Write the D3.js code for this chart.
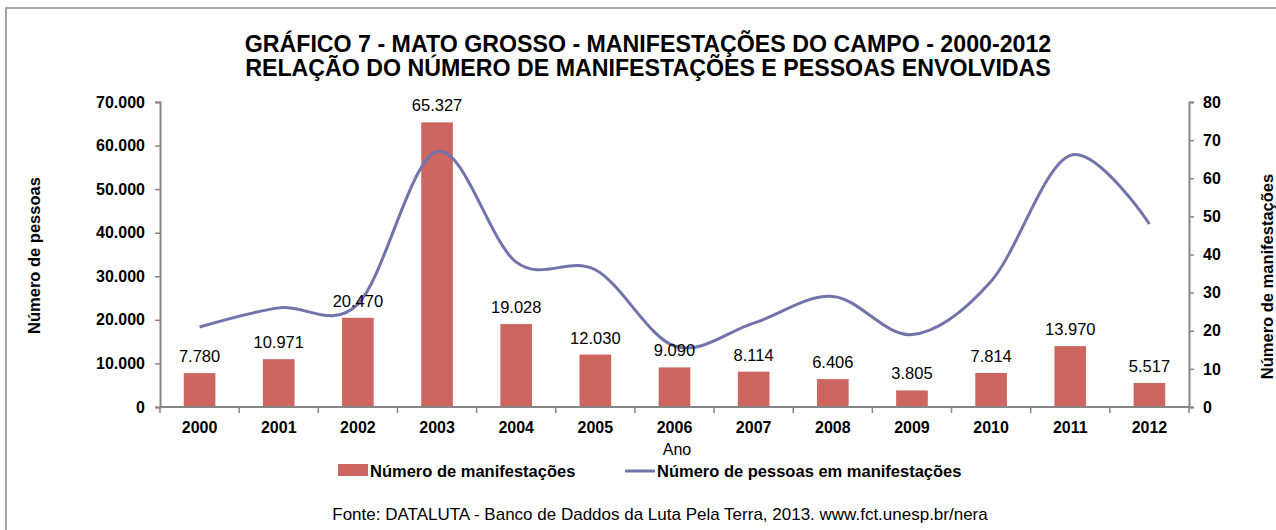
<!DOCTYPE html>
<html>
<head>
<meta charset="utf-8">
<script src="https://cdn.jsdelivr.net/npm/d3@7"></script>
<style>
  body { margin: 0; background: #fff; }
  svg { display: block; font-family: "Liberation Sans", Arial, sans-serif; }
</style>
</head>
<body>
<div id="chart"></div>
<script>
// --- Data ---
const years = ["2000", "2001", "2002", "2003", "2004", "2005", "2006", "2007", "2008", "2009", "2010", "2011", "2012"];
const pessoas = [7780, 10971, 20470, 65327, 19028, 12030, 9090, 8114, 6406, 3805, 7814, 13970, 5517];
const manifestacoes = [21, 26, 27, 67, 38, 36, 16, 22, 29, 19, 33, 66, 48];
const leftTicks = [0, 10000, 20000, 30000, 40000, 50000, 60000, 70000];
const rightTicks = [0, 10, 20, 30, 40, 50, 60, 70, 80];

const width = 1276, height = 530;
const margin = { top: 102, right: 87, bottom: 123, left: 160 };

const fmt = d3.format(",d");
const ptBR = v => fmt(v).replace(/,/g, ".");

const svg = d3.select("#chart").append("svg")
  .attr("width", width)
  .attr("height", height);

// outer frame
svg.append("rect")
  .attr("x", 6).attr("y", 8)
  .attr("width", 1400).attr("height", 700)
  .attr("fill", "none")
  .attr("stroke", "#a6a6a6")
  .attr("stroke-width", 2);

// --- Scales ---
const x = d3.scaleBand()
  .domain(years)
  .range([margin.left, width - margin.right])
  .paddingInner(0.6)
  .paddingOuter(0.3);

const xc = d => x(d) + x.bandwidth() / 2;

const yL = d3.scaleLinear().domain([0, 70000]).range([height - margin.bottom, margin.top]);
const yR = d3.scaleLinear().domain([0, 80]).range([height - margin.bottom, margin.top]);

// --- Title ---
const title = svg.append("text")
  .attr("text-anchor", "middle")
  .attr("font-weight", "bold")
  .attr("font-size", "23.2px")
  .attr("fill", "#000");
title.append("tspan").attr("x", 648).attr("y", 52)
  .text("GRÁFICO 7 - MATO GROSSO - MANIFESTAÇÕES DO CAMPO - 2000-2012");
title.append("tspan").attr("x", 648).attr("y", 76)
  .text("RELAÇÃO DO NÚMERO DE MANIFESTAÇÕES E PESSOAS ENVOLVIDAS");

// --- Bars ---
svg.selectAll(".bar")
  .data(years)
  .enter()
  .append("rect")
  .attr("class", "bar")
  .attr("x", d => x(d))
  .attr("width", x.bandwidth())
  .attr("y", (d, i) => yL(pessoas[i]))
  .attr("height", (d, i) => yL(0) - yL(pessoas[i]))
  .attr("fill", "#cd6660");

// --- Line ---
const line = d3.line()
  .x((d, i) => xc(years[i]))
  .y(d => yR(d))
  .curve(d3.curveCardinal.tension(0));

svg.append("path")
  .datum(manifestacoes)
  .attr("fill", "none")
  .attr("stroke", "#7074ab")
  .attr("stroke-width", 3)
  .attr("d", line);

// --- Bar labels ---
svg.selectAll(".lbl")
  .data(years)
  .enter()
  .append("text")
  .attr("class", "lbl")
  .attr("x", d => xc(d))
  .attr("y", (d, i) => yL(pessoas[i]) - 11)
  .attr("text-anchor", "middle")
  .attr("font-size", "16.5px")
  .attr("fill", "#000")
  .text((d, i) => ptBR(pessoas[i]));

// --- Axes ---
const axisColor = "#868686";
const tickFont = "16px";

const gx = svg.append("g")
  .attr("transform", `translate(0,${yL(0)})`)
  .call(d3.axisBottom(x).tickSize(0).tickPadding(15));
gx.select(".domain").attr("stroke", axisColor).attr("stroke-width", 2)
  .attr("d", `M${margin.left},0H${width - margin.right}`);
gx.selectAll("text").attr("font-size", tickFont).attr("font-weight", "bold").attr("fill", "#000")
  .style("font-family", "Liberation Sans, Arial, sans-serif");
// category separators
gx.selectAll(".sep")
  .data(d3.range(years.length + 1))
  .enter()
  .append("line")
  .attr("class", "sep")
  .attr("x1", i => margin.left + i * x.step())
  .attr("x2", i => margin.left + i * x.step())
  .attr("y1", 0).attr("y2", 6)
  .attr("stroke", axisColor).attr("stroke-width", 1.5);

const gl = svg.append("g")
  .attr("transform", `translate(${margin.left},0)`)
  .call(d3.axisLeft(yL).tickValues(leftTicks).tickFormat(ptBR).tickSizeOuter(0).tickSize(5).tickPadding(10));
gl.select(".domain").attr("stroke", axisColor).attr("stroke-width", 2);
gl.selectAll(".tick line").attr("stroke", axisColor).attr("stroke-width", 1.5);
gl.selectAll("text").attr("font-size", tickFont).attr("font-weight", "bold").attr("fill", "#000")
  .style("font-family", "Liberation Sans, Arial, sans-serif");

const gr = svg.append("g")
  .attr("transform", `translate(${width - margin.right},0)`)
  .call(d3.axisRight(yR).tickValues(rightTicks).tickSizeOuter(0).tickSize(5).tickPadding(9));
gr.select(".domain").attr("stroke", axisColor).attr("stroke-width", 2);
gr.selectAll(".tick line").attr("stroke", axisColor).attr("stroke-width", 1.5);
gr.selectAll("text").attr("font-size", tickFont).attr("font-weight", "bold").attr("fill", "#000")
  .style("font-family", "Liberation Sans, Arial, sans-serif");

// --- Axis titles ---
const midY = (yL(0) + yL(70000)) / 2;
svg.append("text")
  .attr("transform", `translate(40,${midY + 1}) rotate(-90)`)
  .attr("text-anchor", "middle")
  .attr("font-size", "16.5px").attr("font-weight", "bold")
  .text("Número de pessoas");
svg.append("text")
  .attr("transform", `translate(1273,${midY + 22}) rotate(-90)`)
  .attr("text-anchor", "middle")
  .attr("font-size", "16.5px").attr("font-weight", "bold")
  .text("Número de manifestações");

svg.append("text")
  .attr("x", 677).attr("y", 455)
  .attr("text-anchor", "middle")
  .attr("font-size", "16px")
  .text("Ano");

// --- Legend ---
const leg = svg.append("g").attr("font-size", "16.5px").attr("font-weight", "bold");
leg.append("rect").attr("x", 338).attr("y", 464).attr("width", 30).attr("height", 12).attr("fill", "#cd6660");
leg.append("text").attr("x", 370).attr("y", 477).text("Número de manifestações");
leg.append("line").attr("x1", 625).attr("x2", 655).attr("y1", 471).attr("y2", 471)
  .attr("stroke", "#7074ab").attr("stroke-width", 3);
leg.append("text").attr("x", 657).attr("y", 477).text("Número de pessoas em manifestações");

// --- Source ---
svg.append("text")
  .attr("x", 660).attr("y", 520)
  .attr("text-anchor", "middle")
  .attr("font-size", "17px")
  .text("Fonte: DATALUTA - Banco de Daddos da Luta Pela Terra, 2013. www.fct.unesp.br/nera");
</script>
</body>
</html>
